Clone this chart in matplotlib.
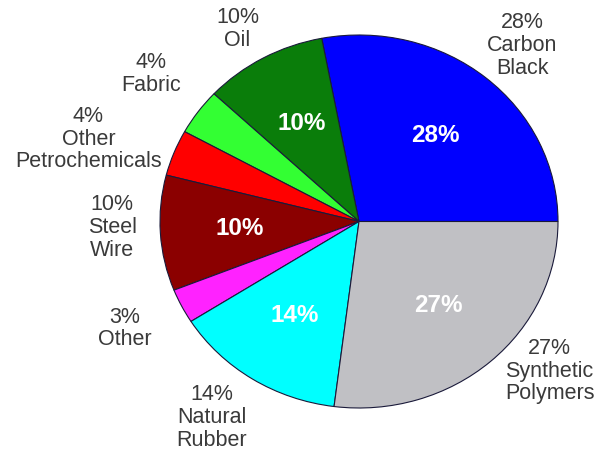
import numpy as np
import matplotlib
matplotlib.use("Agg")
import matplotlib.pyplot as plt

# tyre composition, listed counter-clockwise from 3 o'clock
names = ["Carbon\nBlack", "Oil", "Fabric", "Other\nPetrochemicals",
         "Steel\nWire", "Other", "Natural\nRubber", "Synthetic\nPolymers"]
shares = [28, 10, 4, 4, 10, 3, 14, 27]
colors = ["#0000ff", "#0a7d0a", "#33ff33", "#ff0000",
          "#8b0000", "#ff22ff", "#00ffff", "#c0c0c4"]

# outer label placement: radius and small angle tweak (deg) per slice
lab_r = [1.25, 1.20, 1.31, 1.43, 1.24, 1.31, 1.285, 1.25]
lab_dang = [-1.4, 1.8, -1.2, 3.6, -2.1, -1.0, -2.7, 8.6]

plt.rcParams["font.family"] = ["Liberation Sans", "DejaVu Sans"]

fig = plt.figure(figsize=(5.98, 4.54), dpi=100)
# axes box matches the (slightly wide) ellipse of the original
ax = fig.add_axes([160 / 598, 46 / 454, 398 / 598, 373 / 454])

wedges, _, autotexts = ax.pie(
    shares, colors=colors, startangle=0, counterclock=True,
    wedgeprops=dict(edgecolor="#1a1a3a", linewidth=0.8),
    autopct=lambda p: f"{p:.0f}%" if p >= 9.5 else "",
    pctdistance=0.6,
    textprops=dict(color="white", fontsize=17.5, fontweight="bold"))

ax.set_aspect("auto")
ax.set_xlim(-1, 1)
ax.set_ylim(-1, 1)
ax.axis("off")

for w, name, s, r, da in zip(wedges, names, shares, lab_r, lab_dang):
    ang = np.deg2rad((w.theta1 + w.theta2) / 2 + da)
    ax.text(r * np.cos(ang), r * np.sin(ang), f"{s}%\n{name}",
            ha="center", va="center", fontsize=15.5, color="#3a3a3a",
            linespacing=1.1, clip_on=False)

fig.savefig("out.png", dpi=100)
